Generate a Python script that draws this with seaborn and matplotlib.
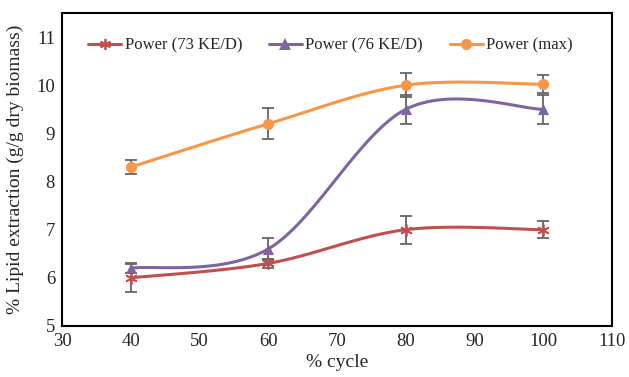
import numpy as np
import pandas as pd
import matplotlib
matplotlib.use("Agg")
import matplotlib.pyplot as plt
import seaborn as sns
from matplotlib.lines import Line2D

cycle = [40, 60, 80, 100]
p73 = [6.0, 6.3, 7.0, 7.0]
p73_err = [0.29, 0.1, 0.29, 0.18]
p76 = [6.2, 6.6, 9.5, 9.5]
p76_err = [0.1, 0.23, 0.3, 0.3]
pmax = [8.3, 9.2, 10.0, 10.02]
pmax_err = [0.15, 0.32, 0.25, 0.19]

labels = ["Power (73 KE/D)", "Power (76 KE/D)", "Power (max)"]
colors = ["#C0504D", "#8064A2", "#F79646"]
markers = [(6, 2, 0), "^", "o"]

sns.set_theme(style="white")
plt.rcParams['font.family'] = ['Liberation Serif', 'DejaVu Serif']


def smooth(x, y, n=40):
    # Excel-style smoothed line (cubic Bezier, Catmull-Rom control points)
    x = np.asarray(x, float); y = np.asarray(y, float)
    P = np.column_stack([x, y])
    pts = []
    for i in range(len(P) - 1):
        p0 = P[i - 1] if i > 0 else P[i]
        p1 = P[i]; p2 = P[i + 1]
        p3 = P[i + 2] if i + 2 < len(P) else P[i + 1]
        c1 = p1 + (p2 - p0) / 6.0
        c2 = p2 - (p3 - p1) / 6.0
        t = np.linspace(0, 1, n)[:, None]
        b = (1 - t) ** 3 * p1 + 3 * (1 - t) ** 2 * t * c1 + 3 * (1 - t) * t ** 2 * c2 + t ** 3 * p2
        pts.append(b if i == 0 else b[1:])
    B = np.vstack(pts)
    return B[:, 0], B[:, 1]


fig = plt.figure(figsize=(6.29, 3.77), dpi=100)
ax = fig.add_axes([62 / 629, 51 / 377, 550 / 629, 313 / 377])

series = [(p73, p73_err), (p76, p76_err), (pmax, pmax_err)]
for (vals, errs), lab, col, mk in zip(series, labels, colors, markers):
    ax.errorbar(cycle, vals, yerr=errs, fmt="none", ecolor="#666666",
                elinewidth=1.3, capsize=4, capthick=1.3, zorder=2)
    sx, sy = smooth(cycle, vals)
    sns.lineplot(x=sx, y=sy, ax=ax, color=col, linewidth=2.2, sort=False,
                 estimator=None, zorder=3)
    is_star = isinstance(mk, tuple)
    sns.scatterplot(x=cycle, y=vals, ax=ax, color=col, marker=mk, s=64,
                    linewidth=1.3 if is_star else 0,
                    edgecolor=col, zorder=4)

handles = [Line2D([0], [0], color=c, lw=2.2, marker=m, markersize=8,
                  markeredgewidth=1.3 if isinstance(m, tuple) else 0,
                  markerfacecolor=c, markeredgecolor=c)
           for c, m in zip(colors, markers)]
ax.legend(handles, labels, loc="upper left", ncol=3, frameon=False,
          fontsize=12, handlelength=2.0, handletextpad=0.2, columnspacing=1.6,
          bbox_to_anchor=(0.035, 0.943), borderaxespad=0)

ax.set_xlim(30, 110)
ax.set_ylim(5, 11.5)
ax.set_xticks(range(30, 111, 10))
ax.set_yticks(range(5, 12))
ax.tick_params(axis="both", labelsize=13.5, length=0, pad=5)
ax.set_xlabel("% cycle", fontsize=14, labelpad=3)
ax.set_ylabel("% Lipid extraction (g/g dry biomass)", fontsize=14, labelpad=9)
for s in ax.spines.values():
    s.set_visible(True)
    s.set_color("black")
    s.set_linewidth(1.5)
ax.grid(False)

fig.savefig("out.png", dpi=100)
